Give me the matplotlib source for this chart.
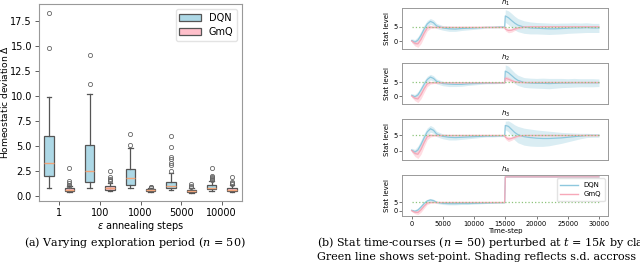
import matplotlib
matplotlib.use("Agg")
import matplotlib.pyplot as plt
import numpy as np

# ---------------- data: panel (a) boxplots ----------------
categories = ['1', '100', '1000', '5000', '10000']
dqn_med = [3.25, 2.5, 1.75, 0.95, 0.8]
dqn_q1 = [2.0, 1.4, 1.1, 0.8, 0.65]
dqn_q3 = [6.0, 5.1, 2.65, 1.4, 1.05]
dqn_lo = [0.8, 0.73, 0.75, 0.55, 0.5]
dqn_hi = [9.9, 10.2, 4.8, 2.3, 1.45]
dqn_fliers = [[14.8, 18.3], [11.2, 14.1], [5.05, 6.15],
              [2.5, 3.1, 3.3, 3.7, 3.9, 4.9, 6.0],
              [1.6, 1.7, 1.8, 1.9, 2.0, 2.8]]
gmq_med = [0.6, 0.75, 0.55, 0.5, 0.6]
gmq_q1 = [0.5, 0.55, 0.45, 0.4, 0.45]
gmq_q3 = [0.75, 0.95, 0.65, 0.6, 0.75]
gmq_lo = [0.4, 0.45, 0.35, 0.3, 0.4]
gmq_hi = [0.95, 1.3, 0.75, 0.8, 1.05]
gmq_fliers = [[1.0, 1.1, 1.25, 1.5, 2.8], [1.45, 1.55, 1.65, 1.85, 2.45],
              [0.8, 0.85, 0.9], [0.85, 1.0, 1.2], [1.15, 1.25, 1.35, 1.9]]

# ---------------- data: panel (b) time courses ----------------
t = [0, 500, 1000, 1500, 2000, 2500, 3000, 3500, 4000, 5000, 6000, 7000,
     8000, 9000, 10000, 11000, 12000, 13000, 14000, 14900, 15000, 15500,
     16000, 16500, 17000, 18000, 19000, 20000, 21000, 22000, 23000, 24000,
     25000, 26000, 27000, 28000, 29000, 30000]
setpoint = 5

h1_dqn = [0.2, -0.4, 0.3, 2.0, 4.2, 6.0, 6.9, 6.4, 5.3, 4.6, 4.3, 4.2, 4.4, 4.5,
          4.6, 4.7, 4.8, 4.8, 4.9, 4.9, 8.8, 8.2, 7.2, 6.3, 5.6, 4.9, 4.6, 4.5,
          4.4, 4.3, 4.3, 4.4, 4.5, 4.6, 4.6, 4.7, 4.6, 4.6]
h1_dqn_sd = [0.6, 0.9, 1.2, 1.4, 1.4, 1.2, 1.0, 1.0, 0.9, 0.8, 0.9, 0.8, 0.7, 0.6,
             0.5, 0.4, 0.3, 0.3, 0.3, 0.3, 2.2, 2.4, 2.5, 2.4, 2.3, 2.2, 2.1, 2.0,
             2.0, 2.0, 1.9, 1.9, 1.8, 1.8, 1.7, 1.7, 1.6, 1.6]
h1_gmq = [0.0, -0.8, -1.0, 0.6, 2.8, 4.6, 4.9, 4.8, 4.8, 4.8, 4.8, 4.8, 4.8, 4.8,
          4.8, 4.8, 4.8, 4.8, 4.8, 4.8, 4.2, 3.7, 3.8, 4.2, 4.6, 4.9, 5.0, 5.0,
          5.0, 5.0, 5.0, 5.0, 5.0, 5.0, 5.0, 5.0, 5.0, 5.0]
h1_gmq_sd = [0.5, 0.9, 1.2, 1.5, 1.4, 1.0, 0.5, 0.3, 0.3, 0.2, 0.2, 0.2, 0.2, 0.2,
             0.2, 0.2, 0.2, 0.2, 0.2, 0.2, 0.6, 0.8, 0.7, 0.5, 0.4, 0.3, 0.2, 0.2,
             0.2, 0.2, 0.2, 0.2, 0.2, 0.2, 0.2, 0.2, 0.2, 0.2]

h2_dqn = [0.3, -0.3, 0.4, 2.2, 4.3, 6.1, 7.0, 6.5, 5.4, 4.6, 4.4, 4.3, 4.3, 4.5,
          4.6, 4.7, 4.8, 4.8, 4.9, 4.9, 9.2, 8.6, 7.6, 6.6, 5.8, 5.0, 4.8, 4.7,
          4.7, 4.6, 4.7, 4.8, 4.8, 4.9, 4.9, 4.9, 4.9, 4.9]
h2_dqn_sd = [0.6, 0.9, 1.2, 1.4, 1.4, 1.2, 1.0, 1.0, 0.9, 0.8, 0.9, 0.8, 0.7, 0.6,
             0.5, 0.4, 0.3, 0.3, 0.3, 0.3, 2.3, 2.4, 2.2, 2.0, 1.9, 1.8, 1.8, 1.8,
             1.9, 1.9, 1.8, 1.7, 1.6, 1.6, 1.5, 1.5, 1.5, 1.4]
h2_gmq = [0.0, -0.8, -1.1, 0.5, 2.7, 4.5, 4.9, 4.9, 4.9, 4.9, 4.9, 4.9, 4.9, 4.9,
          4.9, 4.9, 4.9, 4.9, 4.9, 4.9, 6.6, 6.2, 5.7, 5.3, 5.1, 5.0, 5.0, 5.0,
          5.0, 5.0, 5.0, 5.0, 5.0, 5.0, 5.0, 5.0, 5.0, 5.0]
h2_gmq_sd = [0.5, 0.9, 1.3, 1.5, 1.4, 1.0, 0.5, 0.3, 0.3, 0.2, 0.2, 0.2, 0.2, 0.2,
             0.2, 0.2, 0.2, 0.2, 0.2, 0.2, 0.8, 0.8, 0.6, 0.4, 0.3, 0.2, 0.2, 0.2,
             0.2, 0.2, 0.2, 0.2, 0.2, 0.2, 0.2, 0.2, 0.2, 0.2]

h3_dqn = [0.2, -0.5, 0.2, 2.0, 4.2, 6.2, 7.2, 6.7, 5.5, 4.7, 4.4, 4.3, 4.4, 4.5,
          4.6, 4.7, 4.8, 4.8, 4.9, 4.9, 8.3, 8.0, 7.0, 6.0, 5.3, 4.6, 4.3, 4.1,
          4.0, 4.0, 4.1, 4.2, 4.4, 4.6, 4.8, 5.0, 5.0, 5.0]
h3_dqn_sd = [0.6, 0.9, 1.3, 1.5, 1.5, 1.3, 1.1, 1.0, 0.9, 0.8, 0.9, 0.8, 0.7, 0.6,
             0.5, 0.4, 0.3, 0.3, 0.3, 0.3, 1.4, 1.8, 2.2, 2.5, 2.7, 2.8, 2.8, 2.7,
             2.6, 2.4, 2.1, 1.8, 1.5, 1.2, 0.9, 0.7, 0.6, 0.6]
h3_gmq = [0.0, -0.9, -1.2, 0.4, 2.7, 4.6, 5.0, 5.0, 5.0, 5.0, 5.0, 5.0, 5.0, 5.0,
          5.0, 5.0, 5.0, 5.0, 5.0, 5.0, 4.4, 3.8, 4.0, 4.4, 4.8, 5.0, 5.0, 5.0,
          5.0, 5.0, 5.0, 5.0, 5.0, 5.0, 5.0, 5.0, 5.0, 5.0]
h3_gmq_sd = [0.5, 1.0, 1.4, 1.6, 1.4, 1.0, 0.5, 0.3, 0.3, 0.2, 0.2, 0.2, 0.2, 0.2,
             0.2, 0.2, 0.2, 0.2, 0.2, 0.2, 0.6, 0.8, 0.6, 0.4, 0.3, 0.2, 0.2, 0.2,
             0.2, 0.2, 0.2, 0.2, 0.2, 0.2, 0.2, 0.2, 0.2, 0.2]

h4_dqn = [0.3, -0.3, 0.4, 2.2, 4.3, 5.8, 6.4, 6.0, 5.0, 4.4, 4.2, 4.2, 4.3, 4.3,
          4.4, 4.5, 4.6, 4.7, 4.8, 4.8, 20, 20, 20, 20, 20, 20, 20, 20,
          20, 20, 20, 20, 20, 20, 20, 20, 20, 20]
h4_dqn_sd = [0.6, 0.9, 1.2, 1.3, 1.2, 1.0, 0.9, 0.8, 0.7, 0.7, 0.7, 0.7, 0.6, 0.6,
             0.5, 0.4, 0.3, 0.3, 0.3, 0.3, 0, 0, 0, 0, 0, 0, 0, 0,
             0, 0, 0, 0, 0, 0, 0, 0, 0, 0]
h4_gmq = [0.0, -0.8, -1.0, 0.6, 2.8, 4.6, 4.9, 4.9, 4.9, 4.9, 4.9, 4.9, 4.9, 4.9,
          4.9, 4.9, 4.9, 4.9, 4.9, 4.9, 20, 20, 20, 20, 20, 20, 20, 20,
          20, 20, 20, 20, 20, 20, 20, 20, 20, 20]
h4_gmq_sd = [0.5, 0.9, 1.2, 1.4, 1.3, 0.9, 0.5, 0.3, 0.3, 0.2, 0.2, 0.2, 0.2, 0.2,
             0.2, 0.2, 0.2, 0.2, 0.2, 0.2, 0, 0, 0, 0, 0, 0, 0, 0,
             0, 0, 0, 0, 0, 0, 0, 0, 0, 0]

panels = [("$h_1$", h1_dqn, h1_dqn_sd, h1_gmq, h1_gmq_sd),
          ("$h_2$", h2_dqn, h2_dqn_sd, h2_gmq, h2_gmq_sd),
          ("$h_3$", h3_dqn, h3_dqn_sd, h3_gmq, h3_gmq_sd),
          ("$h_4$", h4_dqn, h4_dqn_sd, h4_gmq, h4_gmq_sd)]

# ---------------- styling ----------------
W, H = 640, 264
DPI = 100
fig = plt.figure(figsize=(W / DPI, H / DPI), dpi=DPI)
fig.patch.set_facecolor('white')

def frac_rect(l, t_, r, b):
    return [l / W, 1 - b / H, (r - l) / W, (b - t_) / H]

BLUE_FILL = '#add8e6'
PINK_FILL = '#ffc0cb'
BLUE_LINE = '#8ec8de'
PINK_LINE = '#f7a8b8'
GREEN = '#8cc47a'
CAP_FONT = 8

# ---------------- panel (a) ----------------
axa = fig.add_axes(frac_rect(39, 4, 242, 201))
x = np.arange(len(categories))

def stats(med, q1, q3, lo, hi, fl):
    return [dict(med=med[i], q1=q1[i], q3=q3[i], whislo=lo[i], whishi=hi[i],
                 fliers=fl[i]) for i in range(len(med))]

common = dict(widths=0.23, patch_artist=True, showfliers=True,
              medianprops=dict(color='#f2a57a', lw=1),
              whiskerprops=dict(color='#555555', lw=0.9),
              capprops=dict(color='#555555', lw=0.9),
              flierprops=dict(marker='o', markersize=3, markerfacecolor='none',
                              markeredgecolor='#666666', markeredgewidth=0.6))
b1 = axa.bxp(stats(dqn_med, dqn_q1, dqn_q3, dqn_lo, dqn_hi, dqn_fliers),
             positions=x - 0.25, boxprops=dict(facecolor=BLUE_FILL, edgecolor='#555555', lw=0.9),
             **common)
b2 = axa.bxp(stats(gmq_med, gmq_q1, gmq_q3, gmq_lo, gmq_hi, gmq_fliers),
             positions=x + 0.25, boxprops=dict(facecolor=PINK_FILL, edgecolor='#555555', lw=0.9),
             **common)
axa.set_xlim(-0.5, 4.5)
axa.set_ylim(-0.55, 19.2)
axa.set_xticks(x)
axa.set_xticklabels(categories)
axa.set_yticks(np.arange(0, 17.6, 2.5))
axa.tick_params(labelsize=7, length=3, width=0.6, color='#444444', pad=2)
for s in axa.spines.values():
    s.set_color('#999999')
    s.set_linewidth(0.8)
axa.set_xlabel(r'$\epsilon$ annealing steps', fontsize=7, labelpad=1)
axa.set_ylabel(r'Homeostatic deviation $\Delta$', fontsize=6.6)
axa.yaxis.set_label_coords(-29.0 / 203, 0.5)
axa.legend([b1['boxes'][0], b2['boxes'][0]], ['DQN', 'GmQ'], loc='upper right',
           fontsize=7, frameon=True, edgecolor='#dddddd', handlelength=2.2,
           handleheight=0.8, borderpad=0.4, labelspacing=0.4)

fig.text(135 / W, 1 - 243 / H, '(a) Varying exploration period ($n$ = 50)',
         ha='center', va='center', fontsize=CAP_FONT, family='DejaVu Serif',
         math_fontfamily='dejavuserif')

# ---------------- panel (b) ----------------
tops = [7.8, 63, 119, 175]
for k, (title, dm, ds, gm, gs) in enumerate(panels):
    ax = fig.add_axes(frac_rect(402.3, tops[k], 608.3, tops[k] + 41.4))
    dm_a, ds_a, gm_a, gs_a = map(np.asarray, (dm, ds, gm, gs))
    ax.fill_between(t, dm_a - ds_a, dm_a + ds_a, color=BLUE_FILL, alpha=0.45, lw=0)
    ax.fill_between(t, gm_a - gs_a, gm_a + gs_a, color=PINK_FILL, alpha=0.55, lw=0)
    ax.plot(t, dm, color=BLUE_LINE, lw=0.9, label='DQN')
    ax.plot(t, gm, color=PINK_LINE, lw=0.9, label='GmQ')
    ax.plot([t[0], t[-1]], [setpoint, setpoint], color=GREEN, lw=0.9, ls=':')
    ax.set_yticks([0, 5])
    ax.set_title(title, fontsize=5.0, pad=0.2)
    ax.set_ylabel('Stat level', fontsize=5, labelpad=2)
    ax.tick_params(labelsize=4.8, length=2, width=0.5, pad=1.5, color='#444444')
    for s in ax.spines.values():
        s.set_color('#999999')
        s.set_linewidth(0.7)
    if k < 3:
        ax.set_xticks([])
    else:
        ax.set_xticks(np.arange(0, 30001, 5000))
        ax.set_xlabel('Time-step', fontsize=5, labelpad=0.5)
        leg = ax.legend(loc='upper right', fontsize=5, frameon=True,
                        edgecolor='#dddddd', handlelength=2.6, borderpad=0.5,
                        labelspacing=0.5)
        for ln in leg.get_lines():
            ln.set_linewidth(1.0)

fig.text(317 / W, 1 - 243 / H,
         '(b) Stat time-courses ($n$ = 50) perturbed at $t$ = 15$k$ by clamping',
         ha='left', va='center', fontsize=CAP_FONT, family='DejaVu Serif',
         math_fontfamily='dejavuserif')
fig.text(317 / W, 1 - 256.5 / H,
         'Green line shows set-point. Shading reflects s.d. accross models.',
         ha='left', va='center', fontsize=CAP_FONT, family='DejaVu Serif',
         math_fontfamily='dejavuserif')

fig.savefig('out.png', dpi=DPI)
